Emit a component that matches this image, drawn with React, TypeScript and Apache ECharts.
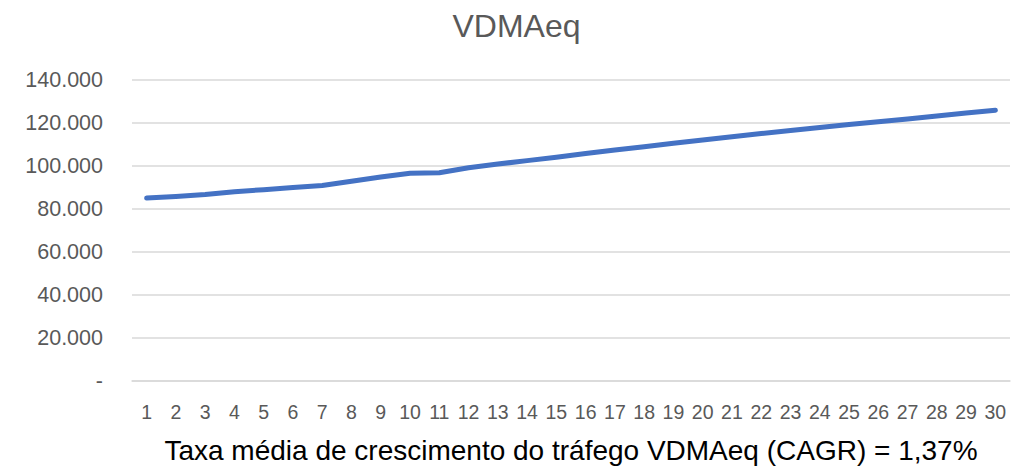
import React, { useEffect, useRef } from "react";
import * as echarts from "echarts";

const categories: string[] = Array.from({ length: 30 }, (_, i) => String(i + 1));
const values: number[] = [
  85100, 85800, 86700, 88000, 89000, 90000, 90900, 92900, 94900, 96600,
  96900, 99200, 100900, 102500, 104100, 105800, 107400, 109000, 110600, 112100,
  113600, 115100, 116500, 117900, 119300, 120600, 121900, 123300, 124600, 125900,
];
const yTicks = { min: 0, max: 140000, interval: 20000 };
const title = "VDMAeq";
const xName = "Taxa média de crescimento do tráfego VDMAeq (CAGR) = 1,37%";

function fmt(v: number): string {
  if (v === 0) return "-";
  return String(v).replace(/\B(?=(\d{3})+(?!\d))/g, ".");
}

export default function App() {
  const ref = useRef<HTMLDivElement>(null);
  useEffect(() => {
    const chart = echarts.init(ref.current!, null, { renderer: "svg" });
    const font = "'Liberation Sans', Arial, sans-serif";
    chart.setOption({
      animation: false,
      backgroundColor: "#ffffff",
      title: {
        text: title,
        left: "center",
        top: 5,
        textStyle: { fontFamily: font, fontSize: 32, fontWeight: "normal", color: "#595959" },
      },
      grid: { left: 132, right: 23, top: 80, bottom: 86, containLabel: false, outerBoundsMode: "none" },
      xAxis: {
        type: "category",
        data: categories,
        boundaryGap: true,
        name: xName,
        nameLocation: "middle",
        nameGap: 55,
        nameTextStyle: { fontFamily: font, fontSize: 28, color: "#000000" },
        axisLine: { show: true, lineStyle: { color: "#d9d9d9", width: 1.5 } },
        axisTick: { show: false },
        axisLabel: { interval: 0, fontFamily: font, fontSize: 19.5, color: "#595959", margin: 21 },
      },
      yAxis: {
        type: "value",
        min: yTicks.min,
        max: yTicks.max,
        interval: yTicks.interval,
        axisLine: { show: false },
        axisTick: { show: false },
        splitLine: { lineStyle: { color: "#d9d9d9", width: 1.5 } },
        axisLabel: { formatter: fmt, fontFamily: font, fontSize: 21.5, color: "#595959", margin: 29 },
      },
      series: [
        {
          type: "line",
          data: values,
          symbol: "none",
          lineStyle: { color: "#4472c4", width: 5, cap: "round", join: "round" },
        },
      ],
    });
    return () => chart.dispose();
  }, []);
  return (
    <div
      ref={ref}
      style={{ position: "fixed", left: 0, top: 0, width: 1033, height: 467 }}
    />
  );
}
